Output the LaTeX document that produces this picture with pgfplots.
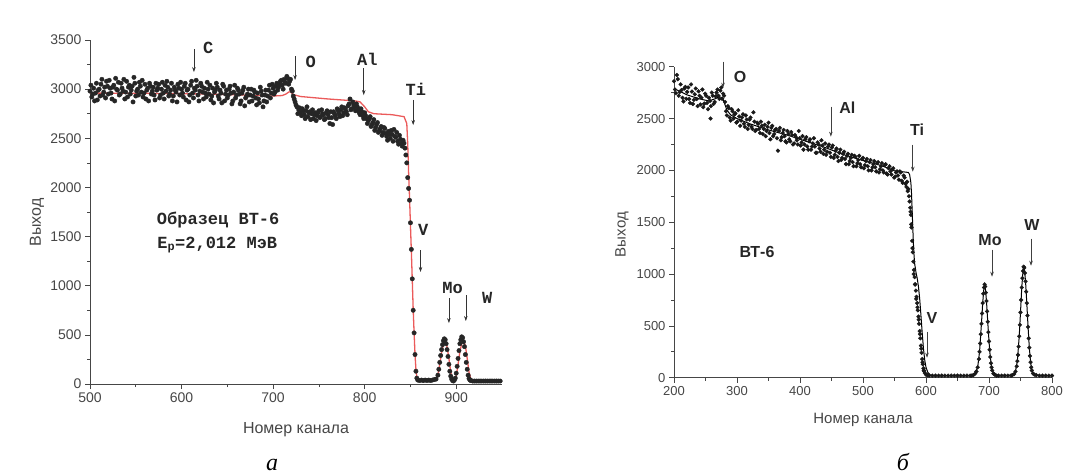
\documentclass[border=0pt]{standalone}
\usepackage{fontspec}
\setmainfont{Liberation Sans}
\newfontfamily\monofont{Liberation Mono}
\newfontfamily\seriffont{Liberation Serif}
\usepackage{pgfplots}
\pgfplotsset{compat=1.18}
\usetikzlibrary{arrows.meta}
\definecolor{fitred}{RGB}{235,90,90}
\definecolor{axgray}{RGB}{70,70,70}

\pgfplotstableread{
x y
500 2980
502 2920
504 3010
506 2960
508 2890
510 3000
512 3050
514 2940
516 3020
518 3080
520 2950
522 3010
524 2900
526 3040
528 3110
530 2990
532 2940
534 3060
536 2980
538 2900
540 3080
542 3020
544 2950
546 3030
548 3120
550 2930
552 3000
554 3070
556 2970
558 2920
560 3050
562 2990
564 2880
566 3030
568 2980
570 2940
572 3060
574 3010
576 2910
578 3000
580 2960
582 3040
584 3080
586 2930
588 2990
590 2880
592 3020
594 2970
596 3050
598 2940
600 3000
602 2920
604 3060
606 2990
608 2870
610 3040
612 2960
614 3010
616 3090
618 2940
620 2980
622 3030
624 2900
626 2960
628 3070
630 2950
632 2890
634 3010
636 2970
638 3060
640 2930
642 2990
644 2860
646 3030
648 2950
650 2910
652 3000
654 2960
656 2880
658 3040
660 2940
662 2990
664 2850
666 2960
668 3020
670 2910
672 2950
674 2870
676 3000
678 2930
680 2970
682 2840
684 2900
686 3020
688 2940
690 2880
692 2990
694 2930
696 3040
698 2960
700 3010
702 2970
704 3060
706 3020
708 3080
710 3040
712 3100
714 3060
716 3110
718 3080
720 3000
722 2930
724 2870
726 2820
728 2790
730 2760
732 2800
734 2740
736 2780
738 2720
740 2770
742 2750
744 2700
746 2760
748 2730
750 2780
752 2720
754 2750
756 2690
758 2760
760 2740
762 2650
764 2710
766 2770
768 2730
770 2800
772 2750
774 2790
776 2730
778 2810
780 2770
782 2830
784 2900
786 2800
788 2840
790 2780
792 2820
794 2760
796 2800
798 2730
800 2760
802 2700
804 2680
806 2720
808 2640
810 2690
812 2610
814 2660
816 2580
818 2620
820 2560
822 2600
824 2520
826 2570
828 2500
830 2540
832 2590
834 2510
836 2470
838 2530
840 2450
842 2480
844 2400
845 2330
846 2250
847 2100
848 1990
849 1870
850 1640
851 1370
852 1070
853 750
854 520
855 300
856 130
857 60
858 40
860 35
862 40
864 35
866 40
868 35
870 40
872 35
874 40
876 45
878 50
880 90
881 150
882 220
883 290
884 350
885 400
886 440
887 460
888 450
889 410
890 350
891 280
892 200
893 130
894 80
895 50
896 35
897 30
898 40
899 60
900 110
901 180
902 260
903 340
904 410
905 450
906 480
907 470
908 430
909 380
910 300
911 220
912 150
913 90
914 55
915 40
916 35
918 30
920 30
922 30
924 30
926 30
928 30
930 30
932 30
934 30
936 30
938 30
940 30
942 30
944 30
946 30
948 30
}\dotsA

\pgfplotstableread{
x y
501 3040
503 2950
505 2880
507 3060
509 2990
511 2930
513 3100
515 2970
517 2910
519 3030
521 3090
523 2960
525 3020
527 2880
529 3000
531 3070
533 2950
535 3010
537 3100
539 2970
541 2920
543 3040
545 2990
547 2870
549 3060
551 2980
553 2940
555 3030
557 3090
559 2960
561 2900
563 3010
565 3060
567 2950
569 3020
571 2890
573 2990
575 3050
577 2940
579 3070
581 2900
583 2980
585 3020
587 2950
589 3060
591 2930
593 2990
595 2870
597 3010
599 3070
601 2960
603 3030
605 2890
607 3000
609 2940
611 3080
613 2910
615 2990
617 3030
619 2880
621 3060
623 2970
625 3010
627 2920
629 3000
631 3040
633 2930
635 2860
637 2990
639 3020
641 2900
643 2960
645 3050
647 2880
649 2990
651 2940
653 3030
655 2850
657 2970
659 2910
661 3010
663 2950
665 2880
667 2990
669 2830
671 2930
673 3000
675 2940
677 2880
679 2990
681 2910
683 2960
685 2860
687 2980
689 2820
691 2940
693 2870
695 2990
697 2910
699 3050
701 2950
703 3030
705 2990
707 3050
709 3090
711 3000
713 3070
715 3130
717 3050
719 3100
721 2980
723 2900
725 2840
727 2750
729 2810
731 2730
733 2780
735 2700
737 2820
739 2760
741 2690
743 2790
745 2740
747 2680
749 2760
751 2710
753 2790
755 2740
757 2700
759 2780
761 2710
763 2770
765 2640
767 2750
769 2700
771 2780
773 2720
775 2820
777 2760
779 2800
781 2740
783 2850
785 2790
787 2870
789 2820
791 2850
793 2790
795 2740
797 2770
799 2700
801 2730
803 2650
805 2700
807 2620
809 2660
811 2580
813 2640
815 2560
817 2600
819 2530
821 2610
823 2550
825 2480
827 2540
829 2580
831 2470
833 2520
835 2560
837 2440
839 2490
841 2420
843 2450
}\dotsAA

\pgfplotstableread{
x y
500 2960
550 2958
600 2955
650 2945
700 2930
710 2935
714 2950
717 2970
719 2975
722 2945
730 2925
760 2900
790 2880
795 2870
800 2820
804 2770
810 2750
830 2740
843 2720
846 2650
847 2450
848 2150
849 1900
850 1620
851 1350
852 1060
853 760
854 520
855 300
856 150
857 70
858 45
870 40
878 45
880 90
882 200
884 320
886 400
888 420
890 380
892 260
894 120
896 40
898 35
900 80
902 200
904 330
906 410
908 440
910 390
912 260
914 120
916 50
920 30
950 30
}\lineA

\pgfplotstableread{
x y
200 2860
203 2745
206 2880
209 2755
212 2775
215 2665
218 2805
221 2757
224 2688
227 2829
230 2640
233 2734
236 2688
239 2763
242 2636
245 2780
248 2644
251 2720
254 2590
257 2670
258 2500
260 2750
263 2642
266 2714
269 2780
272 2690
275 2800
278 2740
281 2660
284 2530
287 2600
290 2480
293 2570
296 2540
299 2460
302 2580
305 2430
308 2510
311 2450
314 2530
317 2400
320 2490
323 2420
326 2560
329 2380
332 2460
335 2400
338 2470
341 2350
344 2440
347 2380
350 2460
353 2300
356 2430
359 2350
362 2400
365 2190
368 2410
371 2320
374 2390
377 2280
380 2380
383 2300
386 2370
389 2250
392 2340
395 2290
398 2380
401 2240
404 2330
407 2250
410 2320
413 2200
416 2300
419 2230
422 2310
425 2170
428 2270
431 2210
434 2290
437 2160
440 2260
443 2180
446 2250
449 2130
452 2240
455 2150
458 2210
461 2090
464 2200
467 2120
470 2180
473 2060
476 2160
479 2090
482 2150
485 2040
488 2130
491 2070
494 2140
497 2030
500 2120
503 2050
506 2110
509 2000
512 2100
515 2030
518 2090
521 1990
524 2080
527 2010
530 2070
533 1980
536 2060
539 1960
542 2040
545 1960
548 2020
551 1940
554 1990
557 1910
560 1980
563 1880
566 1930
569 1840
571 1800
573 1750
574 1700
575 1640
576 1570
577 1450
578 1320
579 1210
580 1120
581 1040
582 970
583 900
584 840
585 780
586 720
587 650
588 590
589 520
590 450
591 380
592 310
593 240
594 180
595 130
596 90
597 65
598 45
600 30
602 25
605 20
610 20
615 20
620 20
625 20
630 20
635 20
640 20
645 20
650 20
655 20
660 20
665 20
670 20
672 20
675 25
678 40
680 60
682 100
684 180
685 250
686 330
687 420
688 520
689 620
690 720
691 810
692 870
693 900
694 880
695 820
696 740
697 640
698 540
699 440
700 350
701 270
702 200
703 140
704 100
705 70
707 40
709 30
712 20
715 20
720 20
725 20
730 20
735 20
737 25
740 35
742 60
744 110
745 160
746 220
747 300
748 400
749 510
750 630
751 750
752 870
753 960
754 1030
755 1070
756 1060
757 1010
758 930
759 830
760 720
761 600
762 490
763 380
764 290
765 210
766 150
767 100
768 70
770 40
772 30
775 25
780 20
785 20
790 20
795 20
800 20
}\dotsB

\pgfplotstableread{
x y
201.5 2780
204.5 2920
207.5 2720
210.5 2830
213.5 2700
216.5 2790
219.5 2690
222.5 2800
225.5 2650
228.5 2760
231.5 2680
234.5 2790
237.5 2620
240.5 2720
243.5 2700
246.5 2610
249.5 2740
252.5 2650
255.5 2700
258.5 2620
261.5 2720
264.5 2660
267.5 2750
270.5 2720
273.5 2770
276.5 2690
279.5 2720
282.5 2570
285.5 2620
288.5 2510
291.5 2590
294.5 2500
297.5 2550
300.5 2470
303.5 2520
306.5 2480
309.5 2540
312.5 2420
315.5 2490
318.5 2440
321.5 2510
324.5 2400
327.5 2470
330.5 2390
333.5 2450
336.5 2360
339.5 2430
342.5 2400
345.5 2330
348.5 2420
351.5 2360
354.5 2410
357.5 2330
360.5 2390
363.5 2310
366.5 2380
369.5 2290
372.5 2360
375.5 2330
378.5 2270
381.5 2350
384.5 2280
387.5 2340
390.5 2260
393.5 2320
396.5 2250
399.5 2310
402.5 2270
405.5 2200
408.5 2300
411.5 2230
414.5 2280
417.5 2200
420.5 2260
423.5 2230
426.5 2170
429.5 2250
432.5 2180
435.5 2240
438.5 2200
441.5 2150
444.5 2230
447.5 2170
450.5 2220
453.5 2120
456.5 2190
459.5 2130
462.5 2170
465.5 2100
468.5 2160
471.5 2110
474.5 2140
477.5 2060
480.5 2120
483.5 2080
486.5 2140
489.5 2040
492.5 2100
495.5 2060
498.5 2110
501.5 2020
504.5 2090
507.5 2040
510.5 2080
513.5 2000
516.5 2060
519.5 2030
522.5 2070
525.5 1980
528.5 2040
531.5 2000
534.5 2050
537.5 1970
540.5 2020
543.5 1990
546.5 2010
549.5 1930
552.5 1980
555.5 1950
558.5 1990
561.5 1900
564.5 1950
567.5 1870
570 1890
572 1820
575.5 1600
576.5 1480
578.5 1250
580.5 1000
582.5 900
584.5 760
586.5 680
588.5 560
590.5 420
592.5 280
594.5 150
596.5 70
}\dotsBB

\pgfplotstableread{
x y
200 2790
220 2730
240 2690
255 2670
265 2690
272 2710
277 2700
280 2650
284 2580
290 2535
300 2500
320 2450
350 2390
380 2340
410 2280
440 2220
470 2150
500 2095
530 2045
550 1995
565 1985
572 1980
574 1960
576 1880
577 1780
578 1620
579 1450
580 1300
581 1180
582 1100
584 1020
586 960
588 880
590 760
592 600
594 430
596 280
598 170
600 100
603 50
607 25
612 20
670 20
678 40
682 100
685 250
688 520
690 720
692 870
693 900
694 880
696 740
698 540
700 350
702 200
705 70
709 30
715 20
737 25
742 60
745 160
748 400
750 630
752 870
754 1030
755 1070
756 1060
758 930
760 720
762 490
764 290
766 150
768 70
772 30
780 20
800 20
}\lineB

\begin{document}
\begin{tikzpicture}
\useasboundingbox (0pt,0pt) rectangle (1069pt,475pt);
\pgfplotsset{
  myaxis/.style={
    scale only axis,
    axis lines=left,
    axis line style={-, axgray, line width=0.8pt},
    tick align=outside,
    major tick length=5pt,
    minor tick length=3pt,
    tick style={axgray, line width=0.7pt},
    minor x tick num=1,
    minor y tick num=1,
    /pgf/number format/assume math mode=true,
    /pgf/number format/1000 sep={},
    clip=false,
  }
}
% ---------- panel a ----------
\begin{axis}[myaxis,
  at={(90pt,91pt)}, anchor=south west,
  width=412pt, height=344pt,
  xmin=500, xmax=950, ymin=0, ymax=3500,
  xtick={500,600,700,800,900},
  ytick={0,500,1000,1500,2000,2500,3000,3500},
  ticklabel style={font=\fontsize{14}{14}\selectfont, text=axgray},
  xlabel={Номер канала}, ylabel={Выход},
  every axis x label/.style={at={(axis description cs:0.5,0)}, yshift=-46pt, anchor=center, font=\fontsize{16}{16}\selectfont, text=axgray},
  every axis y label/.style={at={(axis description cs:0,0.47)}, xshift=-53pt, anchor=center, rotate=90, font=\fontsize{16}{16}\selectfont, text=axgray},
]
\addplot[only marks, mark=*, mark size=2.2pt, black!85] table[x=x,y=y] {\dotsA};
\addplot[only marks, mark=*, mark size=2.2pt, black!85] table[x=x,y=y] {\dotsAA};
\addplot[fitred, line width=1.3pt, mark=none] table[x=x,y=y] {\lineA};
\begin{scope}[every node/.style={font=\monofont\bfseries\fontsize{17}{17}\selectfont, text=black!85}]
\draw[-{Stealth[length=5pt,width=3.5pt]}, black!80, line width=0.6pt] (axis cs:613.5,3408) -- (axis cs:613.5,3174);
\node at (axis cs:629,3418) {C};
\draw[-{Stealth[length=5pt,width=3.5pt]}, black!80, line width=0.6pt] (axis cs:724,3337) -- (axis cs:724,3093);
\node at (axis cs:741,3276) {O};
\draw[-{Stealth[length=5pt,width=3.5pt]}, black!80, line width=0.6pt] (axis cs:799,3215) -- (axis cs:799,2940);
\node at (axis cs:803,3307) {Al};
\draw[-{Stealth[length=5pt,width=3.5pt]}, black!80, line width=0.6pt] (axis cs:853,2890) -- (axis cs:853,2635);
\node at (axis cs:856,3001) {Ti};
\draw[-{Stealth[length=5pt,width=3.5pt]}, black!80, line width=0.6pt] (axis cs:861,1363) -- (axis cs:861,1140);
\node at (axis cs:864,1567) {V};
\draw[-{Stealth[length=5pt,width=3.5pt]}, black!80, line width=0.6pt] (axis cs:892,875) -- (axis cs:892,620);
\node at (axis cs:896,977) {Mo};
\draw[-{Stealth[length=5pt,width=3.5pt]}, black!80, line width=0.6pt] (axis cs:910.5,905) -- (axis cs:910.5,641);
\node at (axis cs:934,875) {W};
\node at (axis cs:640,1669) {Образец ВТ-6};
\node at (axis cs:639,1414) {E\textsubscript{p}=2,012 МэВ};
\end{scope}
\end{axis}
% ---------- panel b ----------
\begin{axis}[myaxis,
  at={(674pt,97.3pt)}, anchor=south west,
  width=378pt, height=311pt,
  xmin=200, xmax=800, ymin=0, ymax=3000,
  xtick={200,300,400,500,600,700,800},
  ytick={0,500,1000,1500,2000,2500,3000},
  ticklabel style={font=\fontsize{13}{13}\selectfont, text=axgray},
  xlabel={Номер канала}, ylabel={Выход},
  every axis x label/.style={at={(axis description cs:0.5,0)}, yshift=-42pt, anchor=center, font=\fontsize{15}{15}\selectfont, text=axgray},
  every axis y label/.style={at={(axis description cs:0,0.46)}, xshift=-52pt, anchor=center, rotate=90, font=\fontsize{15}{15}\selectfont, text=axgray},
]
\addplot[only marks, mark=*, mark size=1.9pt, black!90] table[x=x,y=y] {\dotsB};
\addplot[only marks, mark=*, mark size=1.9pt, black!90] table[x=x,y=y] {\dotsBB};
\addplot[black, line width=1pt, mark=none] table[x=x,y=y] {\lineB};
\begin{scope}[every node/.style={font=\bfseries\fontsize{16}{16}\selectfont, text=black!85}]
\draw[-{Stealth[length=5pt,width=3.5pt]}, black!75, line width=0.6pt] (axis cs:277.8,3048) -- (axis cs:277.8,2797);
\node at (axis cs:305,2903) {O};
\draw[-{Stealth[length=5pt,width=3.5pt]}, black!75, line width=0.6pt] (axis cs:449,2614) -- (axis cs:449,2325);
\node at (axis cs:475,2604) {Al};
\draw[-{Stealth[length=5pt,width=3.5pt]}, black!75, line width=0.6pt] (axis cs:579,2248) -- (axis cs:579,1987);
\node at (axis cs:586,2392) {Ti};
\draw[-{Stealth[length=5pt,width=3.5pt]}, black!75, line width=0.6pt] (axis cs:601.6,444) -- (axis cs:601.6,193);
\node at (axis cs:609.5,579) {V};
\draw[-{Stealth[length=5pt,width=3.5pt]}, black!75, line width=0.6pt] (axis cs:704.8,1235) -- (axis cs:704.8,974);
\node at (axis cs:701.6,1331) {Mo};
\draw[-{Stealth[length=5pt,width=3.5pt]}, black!75, line width=0.6pt] (axis cs:766.7,1341) -- (axis cs:766.7,1080);
\node at (axis cs:768,1476) {W};
\node at (axis cs:331.7,1215) {ВТ-6};
\end{scope}
\end{axis}
% captions
\node[anchor=base, inner sep=0pt, font=\seriffont\itshape\fontsize{24}{24}\selectfont] at (272pt,5pt) {а};
\node[anchor=base, inner sep=0pt, font=\seriffont\itshape\fontsize{24}{24}\selectfont] at (903pt,5pt) {б};
\end{tikzpicture}
\end{document}
